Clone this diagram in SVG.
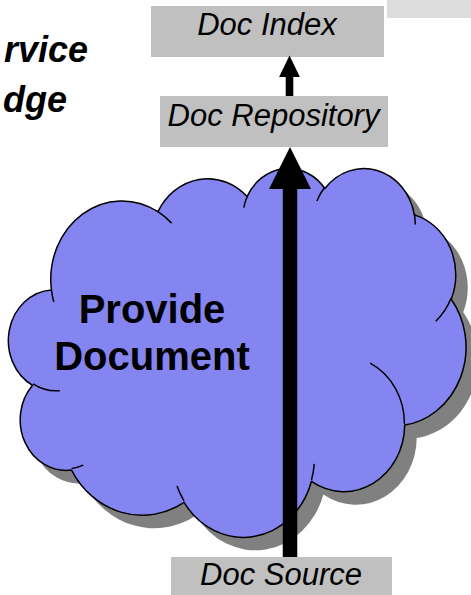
<svg xmlns="http://www.w3.org/2000/svg" width="471" height="595" viewBox="0 0 471 595">
<style>
.box{fill:#C0C0C0;stroke:none}
.lbl{font-family:"Liberation Sans",Arial,sans-serif;font-size:31px;font-style:italic;fill:#000;text-anchor:middle}
.big{font-family:"Liberation Sans",Arial,sans-serif;font-size:40px;font-weight:bold;fill:#000;text-anchor:middle}
.ttl{font-family:"Liberation Sans",Arial,sans-serif;font-size:36px;font-weight:bold;font-style:italic;fill:#000;text-anchor:end}
.cloud{fill:#8585F2;stroke:#000;stroke-width:1.5;stroke-linejoin:round}
.shadow{fill:#808080;stroke:none}
.inner{fill:none;stroke:#000;stroke-width:1.5}
.conn{stroke:#000;fill:none}
</style>
<defs>
<path id="cloudPath" d="M51.42,289.94 A71.20,78.43 0 0 1 157.97,211.70 A56.23,62.02 0 0 1 247.08,196.59 A46.02,50.74 0 0 1 324.86,188.47 A51.21,56.29 0 0 1 414.33,214.89 A56.23,62.07 0 0 1 451.24,299.24 A71.44,78.69 0 0 1 404.70,425.08 A61.00,67.14 0 0 1 311.40,481.49 A71.19,78.65 0 0 1 184.07,502.41 A81.40,89.98 0 0 1 71.51,470.03 A45.97,50.51 0 0 1 32.59,385.35 A45.81,50.74 0 0 1 51.42,289.94 Z"/>
<marker id="headBig" markerUnits="userSpaceOnUse" markerWidth="42" markerHeight="42" refX="1" refY="21" orient="auto" viewBox="0 0 42 42">
<path d="M0,0 L42,21 L0,42 Z" fill="#000"/>
</marker>
<marker id="headSmall" markerUnits="userSpaceOnUse" markerWidth="22" markerHeight="21" refX="1" refY="10.4" orient="auto" viewBox="0 0 22 21">
<path d="M0,0 L21.5,10.4 L0,20.8 Z" fill="#000"/>
</marker>
</defs>

<g id="title">
<text class="ttl" x="88" y="62">rvice</text>
<text class="ttl" x="67" y="112">dge</text>
</g>

<g id="top-right-box">
<rect x="387" y="0" width="84" height="18" fill="#DDDDDD"/>
</g>

<g id="provide-document">
<use href="#cloudPath" class="shadow" transform="translate(12,13)"/>
<use href="#cloudPath" class="cloud"/>
<path class="inner" d="M59.78,390.71 A45.81,50.74 0 0 1 33.08,383.91"/>
<path class="inner" d="M83.35,465.16 A45.97,50.51 0 0 1 71.66,468.41"/>
<path class="inner" d="M184.04,500.92 A71.19,78.65 0 0 1 177.00,486.07"/>
<path class="inner" d="M314.25,463.89 A71.19,78.65 0 0 1 311.44,480.18"/>
<path class="inner" d="M370.16,363.21 A61.00,67.14 0 0 1 404.43,424.11"/>
<path class="inner" d="M451.02,298.34 A56.23,62.07 0 0 1 435.75,321.18"/>
<path class="inner" d="M414.39,213.61 A51.21,56.29 0 0 1 415.19,224.40"/>
<path class="inner" d="M316.90,201.03 A51.21,56.29 0 0 1 324.72,187.27"/>
<path class="inner" d="M243.75,207.58 A46.02,50.74 0 0 1 247.54,195.72"/>
<path class="inner" d="M157.92,211.61 A71.20,78.43 0 0 1 171.62,223.12"/>
<path class="inner" d="M53.81,302.05 A71.20,78.43 0 0 1 51.42,289.94"/>
<text class="big" x="152" y="323">Provide</text>
<text class="big" x="152" y="370">Document</text>
</g>

<g id="doc-index">
<rect class="box" x="151" y="6" width="233" height="51"/>
<text class="lbl" x="267" y="35">Doc Index</text>
</g>

<g id="doc-repository">
<rect class="box" x="160" y="96" width="228" height="51"/>
<text class="lbl" x="273.5" y="126">Doc Repository</text>
</g>

<g id="doc-source">
<rect class="box" x="171" y="557" width="221" height="40"/>
<text class="lbl" x="281" y="585">Doc Source</text>
</g>

<g id="connectors">
<line class="conn" x1="290" y1="557" x2="290" y2="188" stroke-width="14.5" marker-end="url(#headBig)"/>
<line class="conn" x1="289.5" y1="96" x2="289.5" y2="76" stroke-width="7.6" marker-end="url(#headSmall)"/>
</g>
</svg>
